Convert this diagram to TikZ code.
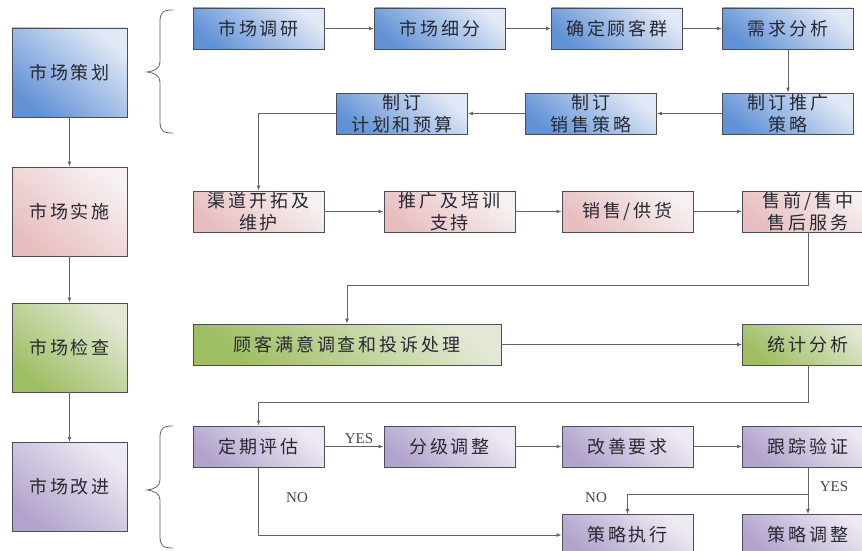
\documentclass[tikz,border=0pt]{standalone}
\usepackage{fontspec}
\setmainfont{Liberation Serif}
\newfontfamily\cjk[LetterSpace=16]{Noto Sans CJK SC}
\usetikzlibrary{arrows.meta}
\definecolor{bord}{RGB}{75,78,88}
\definecolor{txt}{RGB}{40,40,50}
\definecolor{ln}{RGB}{100,100,100}
\definecolor{lbc}{RGB}{70,70,70}
\definecolor{bluD}{RGB}{98,146,214}
\definecolor{bluL}{RGB}{225,233,246}
\definecolor{pnkD}{RGB}{232,190,192}
\definecolor{pnkL}{RGB}{246,240,240}
\definecolor{grnD}{RGB}{158,190,98}
\definecolor{grnL}{RGB}{226,232,212}
\definecolor{purD}{RGB}{178,163,204}
\definecolor{purL}{RGB}{238,234,243}
\tikzset{
  box/.style={draw=bord, line width=0.9pt, inner sep=0pt, align=center,
    font=\cjk\fontsize{18}{22}\selectfont, text=txt},
  bx/.style={box, minimum width=131pt, minimum height=41pt},
  lft/.style={box, minimum width=115pt, minimum height=89pt},
  blu/.style={bottom color=bluD, top color=bluL, shading angle=-40},
  pnk/.style={bottom color=pnkD, top color=pnkL, shading angle=-40},
  grn/.style={bottom color=grnD, top color=grnL, shading angle=-40},
  pur/.style={bottom color=purD, top color=purL, shading angle=-40},
  conn/.style={draw=ln, line width=0.9pt, -{Latex[length=5pt,width=4pt]}},
  lbl/.style={font=\fontsize{15}{17}\selectfont, text=lbc},
  brc/.style={draw=ln, line width=0.8pt}
}
\begin{document}
\begin{tikzpicture}[x=1pt,y=-1pt]
\useasboundingbox (0,0) rectangle (862,551);
% left column
\node[lft,blu] (L1) at (69.5,72.5) {市场策划};
\node[lft,pnk] (L2) at (69.5,211.5) {市场实施};
\node[lft,grn] (L3) at (69.5,347.5) {市场检查};
\node[lft,pur] (L4) at (69.5,487) {市场改进};
% row 1
\node[bx,blu] (a1) at (258.5,28.5) {市场调研};
\node[bx,blu] (a2) at (440,28.5) {市场细分};
\node[bx,blu] (a3) at (617,28.5) {确定顾客群};
\node[bx,blu] (a4) at (788,28.5) {需求分析};
% row 2
\node[bx,blu] (b1) at (788,113.5) {制订推广\\策略};
\node[bx,blu] (b2) at (591,113.5) {制订\\销售策略};
\node[bx,blu] (b3) at (402,113.5) {制订\\计划和预算};
% row 3
\node[bx,pnk] (c1) at (258.5,211.5) {渠道开拓及\\维护};
\node[bx,pnk] (c2) at (449.5,211.5) {推广及培训\\支持};
\node[bx,pnk] (c3) at (627.5,211.5) {销售/供货};
\node[bx,pnk] (c4) at (808,211.5) {售前/售中\\售后服务};
% row 4
\node[box,grn,minimum width=308pt,minimum height=41pt] (d1) at (347,344.5) {顾客满意调查和投诉处理};
\node[bx,grn] (d2) at (808,344.5) {统计分析};
% row 5
\node[bx,pur] (e1) at (258.5,446.5) {定期评估};
\node[bx,pur] (e2) at (449.5,446.5) {分级调整};
\node[bx,pur] (e3) at (627.5,446.5) {改善要求};
\node[bx,pur] (e4) at (808,446.5) {跟踪验证};
% row 6
\node[bx,pur] (f1) at (627.5,535) {策略执行};
\node[bx,pur] (f2) at (808,535) {策略调整};
% braces
\draw[brc] (173,10) .. controls (163,10) and (160,12) .. (160,22) -- (160,62) .. controls (160,68) and (155,71) .. (147,72) .. controls (155,73) and (160,76) .. (160,82) -- (160,121) .. controls (160,131) and (163,133) .. (173,133);
\draw[brc] (173,426) .. controls (163,426) and (160,428) .. (160,438) -- (160,480) .. controls (160,486) and (155,489) .. (147,490) .. controls (155,491) and (160,494) .. (160,500) -- (160,536) .. controls (160,546) and (163,548) .. (173,548);
% left column connectors
\draw[conn] (L1) -- (L2);
\draw[conn] (L2) -- (L3);
\draw[conn] (L3) -- (L4);
% row 1
\draw[conn] (a1) -- (a2);
\draw[conn] (a2) -- (a3);
\draw[conn] (a3) -- (a4);
\draw[conn] (a4) -- (b1);
\draw[conn] (b1) -- (b2);
\draw[conn] (b2) -- (b3);
\draw[conn] (b3.west) -| (c1.north);
% row 3
\draw[conn] (c1) -- (c2);
\draw[conn] (c2) -- (c3);
\draw[conn] (c3) -- (c4);
\coordinate (k1) at (808,285);
\draw[conn] (c4.south) -- (k1) -| (d1.north);
% row 4
\draw[conn] (d1) -- (d2);
\coordinate (k2) at (808,402);
\draw[conn] (d2.south) -- (k2) -| (e1.north);
% row 5
\draw[conn] (e1) -- node[lbl, above, yshift=-1pt, xshift=5pt] (y1) {YES} (e2);
\draw[conn] (e2) -- (e3);
\draw[conn] (e3) -- (e4);
\draw[conn] (e1.south) |- (f1.west);
\node[lbl] (n1) at (297,498) {NO};
\draw[conn] (e4.south) -- (f2.north);
\node[lbl] (y2) at (834,487) {YES};
\coordinate (k3) at (808,494);
\draw[conn] (k3) -| (f1.north);
\node[lbl] (n2) at (596,498) {NO};
\end{tikzpicture}
\end{document}
